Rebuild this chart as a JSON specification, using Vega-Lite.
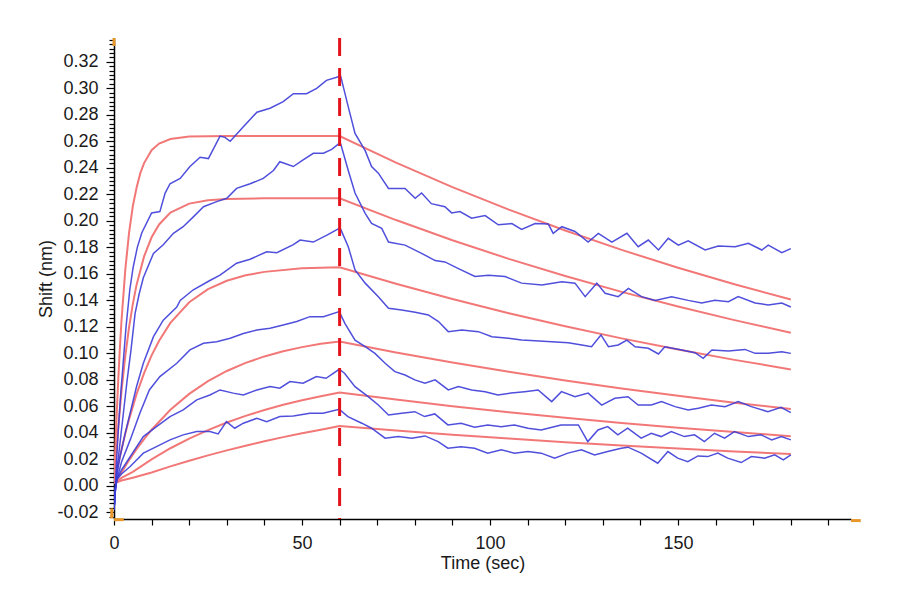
{
  "$schema": "https://vega.github.io/schema/vega-lite/v6.json",
  "width": 737,
  "height": 481,
  "autosize": {"type": "none"},
  "padding": {"left": 114, "top": 38, "right": 49, "bottom": 81},
  "background": "white",
  "config": {"view": {"stroke": null}, "font": "Liberation Sans"},
  "datasets": {
    "fit": [
      {"c":1,"t":0,"y":0.002},{"c":1,"t":0.5,"y":0.04},{"c":1,"t":1,"y":0.072},{"c":1,"t":1.5,"y":0.101},{"c":1,"t":2,"y":0.125},{"c":1,"t":3,"y":0.163},{"c":1,"t":4,"y":0.191},{"c":1,"t":5,"y":0.211},{"c":1,"t":6,"y":0.225},{"c":1,"t":7,"y":0.236},{"c":1,"t":8,"y":0.2436},{"c":1,"t":10,"y":0.2533},{"c":1,"t":12,"y":0.2583},{"c":1,"t":15,"y":0.2618},{"c":1,"t":20,"y":0.2636},{"c":1,"t":30,"y":0.264},{"c":1,"t":45,"y":0.264},{"c":1,"t":60,"y":0.264},{"c":1,"t":75,"y":0.244},{"c":1,"t":90,"y":0.2255},{"c":1,"t":105,"y":0.2085},{"c":1,"t":120,"y":0.1927},{"c":1,"t":135,"y":0.1781},{"c":1,"t":150,"y":0.1646},{"c":1,"t":165,"y":0.1521},{"c":1,"t":180,"y":0.1406},
      {"c":2,"t":0,"y":0.002},{"c":2,"t":1,"y":0.0393},{"c":2,"t":2,"y":0.0716},{"c":2,"t":3,"y":0.0979},{"c":2,"t":4,"y":0.1196},{"c":2,"t":5,"y":0.1372},{"c":2,"t":6,"y":0.1517},{"c":2,"t":8,"y":0.1732},{"c":2,"t":10,"y":0.1876},{"c":2,"t":12,"y":0.1973},{"c":2,"t":15,"y":0.2062},{"c":2,"t":20,"y":0.213},{"c":2,"t":25,"y":0.2155},{"c":2,"t":30,"y":0.2165},{"c":2,"t":40,"y":0.217},{"c":2,"t":60,"y":0.217},{"c":2,"t":75,"y":0.2006},{"c":2,"t":90,"y":0.1854},{"c":2,"t":105,"y":0.1713},{"c":2,"t":120,"y":0.1584},{"c":2,"t":135,"y":0.1464},{"c":2,"t":150,"y":0.1353},{"c":2,"t":165,"y":0.1251},{"c":2,"t":180,"y":0.1156},
      {"c":3,"t":0,"y":0.002},{"c":3,"t":1,"y":0.0143},{"c":3,"t":2,"y":0.0274},{"c":3,"t":3,"y":0.0394},{"c":3,"t":4,"y":0.0502},{"c":3,"t":6,"y":0.0692},{"c":3,"t":8,"y":0.0851},{"c":3,"t":10,"y":0.0985},{"c":3,"t":12,"y":0.1095},{"c":3,"t":15,"y":0.123},{"c":3,"t":20,"y":0.1386},{"c":3,"t":25,"y":0.1485},{"c":3,"t":30,"y":0.1548},{"c":3,"t":35,"y":0.1589},{"c":3,"t":40,"y":0.1615},{"c":3,"t":50,"y":0.1642},{"c":3,"t":60,"y":0.165},{"c":3,"t":75,"y":0.1525},{"c":3,"t":90,"y":0.141},{"c":3,"t":105,"y":0.1303},{"c":3,"t":120,"y":0.1204},{"c":3,"t":135,"y":0.1113},{"c":3,"t":150,"y":0.1029},{"c":3,"t":165,"y":0.0951},{"c":3,"t":180,"y":0.0879},
      {"c":4,"t":0,"y":0.002},{"c":4,"t":2,"y":0.0101},{"c":4,"t":4,"y":0.0193},{"c":4,"t":6,"y":0.0277},{"c":4,"t":8,"y":0.0353},{"c":4,"t":10,"y":0.0424},{"c":4,"t":15,"y":0.0574},{"c":4,"t":20,"y":0.0694},{"c":4,"t":25,"y":0.079},{"c":4,"t":30,"y":0.0867},{"c":4,"t":35,"y":0.0928},{"c":4,"t":40,"y":0.0977},{"c":4,"t":45,"y":0.1016},{"c":4,"t":50,"y":0.1047},{"c":4,"t":55,"y":0.1072},{"c":4,"t":60,"y":0.109},{"c":4,"t":75,"y":0.1007},{"c":4,"t":90,"y":0.0931},{"c":4,"t":105,"y":0.0861},{"c":4,"t":120,"y":0.0795},{"c":4,"t":135,"y":0.0735},{"c":4,"t":150,"y":0.068},{"c":4,"t":165,"y":0.0628},{"c":4,"t":180,"y":0.0581},
      {"c":5,"t":0,"y":0.002},{"c":5,"t":2,"y":0.006},{"c":5,"t":5,"y":0.0106},{"c":5,"t":10,"y":0.02},{"c":5,"t":15,"y":0.0284},{"c":5,"t":20,"y":0.0356},{"c":5,"t":25,"y":0.0421},{"c":5,"t":30,"y":0.0478},{"c":5,"t":35,"y":0.0528},{"c":5,"t":40,"y":0.0573},{"c":5,"t":45,"y":0.0612},{"c":5,"t":50,"y":0.0646},{"c":5,"t":55,"y":0.0677},{"c":5,"t":60,"y":0.0704},{"c":5,"t":75,"y":0.0651},{"c":5,"t":90,"y":0.0601},{"c":5,"t":105,"y":0.0556},{"c":5,"t":120,"y":0.0514},{"c":5,"t":135,"y":0.0475},{"c":5,"t":150,"y":0.0439},{"c":5,"t":165,"y":0.0406},{"c":5,"t":180,"y":0.0375},
      {"c":6,"t":0,"y":0.002},{"c":6,"t":2,"y":0.004},{"c":6,"t":5,"y":0.0062},{"c":6,"t":10,"y":0.0101},{"c":6,"t":15,"y":0.0147},{"c":6,"t":20,"y":0.019},{"c":6,"t":25,"y":0.023},{"c":6,"t":30,"y":0.0268},{"c":6,"t":35,"y":0.0303},{"c":6,"t":40,"y":0.0337},{"c":6,"t":45,"y":0.0368},{"c":6,"t":50,"y":0.0397},{"c":6,"t":55,"y":0.0424},{"c":6,"t":60,"y":0.0452},{"c":6,"t":75,"y":0.0418},{"c":6,"t":90,"y":0.0386},{"c":6,"t":105,"y":0.0357},{"c":6,"t":120,"y":0.033},{"c":6,"t":135,"y":0.0305},{"c":6,"t":150,"y":0.0282},{"c":6,"t":165,"y":0.026},{"c":6,"t":180,"y":0.0241}
    ],
    "obs": [
      {"c":1,"t":0,"y":-0.018},{"c":1,"t":0.3,"y":-0.005},{"c":1,"t":0.7,"y":0.02},{"c":1,"t":1.2,"y":0.045},{"c":1,"t":1.8,"y":0.07},{"c":1,"t":2.5,"y":0.095},{"c":1,"t":3.2,"y":0.12},{"c":1,"t":4.2,"y":0.148},{"c":1,"t":5.1,"y":0.165},{"c":1,"t":6.2,"y":0.18},{"c":1,"t":7.4,"y":0.191},{"c":1,"t":10,"y":0.206},{"c":1,"t":12.2,"y":0.207},{"c":1,"t":13.6,"y":0.221},{"c":1,"t":14.9,"y":0.228},{"c":1,"t":17.6,"y":0.232},{"c":1,"t":20.2,"y":0.241},{"c":1,"t":22.9,"y":0.248},{"c":1,"t":25.1,"y":0.247},{"c":1,"t":28.2,"y":0.264},{"c":1,"t":29.5,"y":0.263},{"c":1,"t":30.9,"y":0.26},{"c":1,"t":34.4,"y":0.271},{"c":1,"t":38,"y":0.282},{"c":1,"t":41.5,"y":0.285},{"c":1,"t":45,"y":0.29},{"c":1,"t":47.7,"y":0.296},{"c":1,"t":51.2,"y":0.296},{"c":1,"t":53.9,"y":0.3},{"c":1,"t":56.5,"y":0.306},{"c":1,"t":59.9,"y":0.309},{"c":1,"t":60.3,"y":0.309},{"c":1,"t":62.3,"y":0.286},{"c":1,"t":64.1,"y":0.266},{"c":1,"t":66.8,"y":0.253},{"c":1,"t":68.5,"y":0.241},{"c":1,"t":70.3,"y":0.236},{"c":1,"t":73,"y":0.2245},{"c":1,"t":77.4,"y":0.2245},{"c":1,"t":80.1,"y":0.217},{"c":1,"t":81.8,"y":0.221},{"c":1,"t":84.4,"y":0.213},{"c":1,"t":88,"y":0.2107},{"c":1,"t":89.8,"y":0.206},{"c":1,"t":92,"y":0.207},{"c":1,"t":95.1,"y":0.202},{"c":1,"t":98.7,"y":0.204},{"c":1,"t":102.2,"y":0.197},{"c":1,"t":105.8,"y":0.198},{"c":1,"t":108.4,"y":0.1936},{"c":1,"t":112,"y":0.198},{"c":1,"t":115.5,"y":0.1976},{"c":1,"t":116.8,"y":0.1906},{"c":1,"t":119.1,"y":0.1956},{"c":1,"t":122.6,"y":0.192},{"c":1,"t":126.1,"y":0.184},{"c":1,"t":128.8,"y":0.1906},{"c":1,"t":132.4,"y":0.184},{"c":1,"t":136.4,"y":0.1906},{"c":1,"t":139.4,"y":0.1805},{"c":1,"t":142.1,"y":0.1855},{"c":1,"t":144.8,"y":0.178},{"c":1,"t":147.4,"y":0.1868},{"c":1,"t":150.1,"y":0.1817},{"c":1,"t":152.7,"y":0.185},{"c":1,"t":157.2,"y":0.178},{"c":1,"t":160.7,"y":0.181},{"c":1,"t":165.2,"y":0.1805},{"c":1,"t":168.7,"y":0.183},{"c":1,"t":172.3,"y":0.178},{"c":1,"t":174,"y":0.1817},{"c":1,"t":177.6,"y":0.176},{"c":1,"t":180,"y":0.179},
      {"c":2,"t":0,"y":-0.018},{"c":2,"t":0.3,"y":-0.005},{"c":2,"t":0.7,"y":0.01},{"c":2,"t":1.5,"y":0.03},{"c":2,"t":2.5,"y":0.055},{"c":2,"t":3.5,"y":0.08},{"c":2,"t":4.5,"y":0.102},{"c":2,"t":5.6,"y":0.13},{"c":2,"t":6.7,"y":0.145},{"c":2,"t":7.8,"y":0.157},{"c":2,"t":10.5,"y":0.1755},{"c":2,"t":13.1,"y":0.182},{"c":2,"t":15.8,"y":0.1906},{"c":2,"t":18.4,"y":0.1956},{"c":2,"t":21.1,"y":0.203},{"c":2,"t":23.8,"y":0.2107},{"c":2,"t":27.3,"y":0.2145},{"c":2,"t":30,"y":0.217},{"c":2,"t":32.6,"y":0.2245},{"c":2,"t":36.2,"y":0.228},{"c":2,"t":39.7,"y":0.232},{"c":2,"t":42.4,"y":0.238},{"c":2,"t":44.1,"y":0.2446},{"c":2,"t":47.7,"y":0.241},{"c":2,"t":50.3,"y":0.246},{"c":2,"t":53,"y":0.251},{"c":2,"t":55.7,"y":0.251},{"c":2,"t":57.9,"y":0.254},{"c":2,"t":59.9,"y":0.2585},{"c":2,"t":60.3,"y":0.258},{"c":2,"t":62.3,"y":0.238},{"c":2,"t":64.1,"y":0.221},{"c":2,"t":66.8,"y":0.2057},{"c":2,"t":68.5,"y":0.198},{"c":2,"t":71.2,"y":0.1943},{"c":2,"t":73,"y":0.184},{"c":2,"t":77.4,"y":0.1817},{"c":2,"t":81.8,"y":0.1755},{"c":2,"t":85.4,"y":0.17},{"c":2,"t":88,"y":0.169},{"c":2,"t":91.6,"y":0.164},{"c":2,"t":96,"y":0.158},{"c":2,"t":99.6,"y":0.159},{"c":2,"t":104,"y":0.158},{"c":2,"t":108.4,"y":0.153},{"c":2,"t":113.8,"y":0.1516},{"c":2,"t":119.1,"y":0.154},{"c":2,"t":122.6,"y":0.153},{"c":2,"t":125.3,"y":0.1428},{"c":2,"t":128.4,"y":0.153},{"c":2,"t":130.6,"y":0.1453},{"c":2,"t":134.1,"y":0.1428},{"c":2,"t":136.8,"y":0.149},{"c":2,"t":140.3,"y":0.1428},{"c":2,"t":143.9,"y":0.14},{"c":2,"t":148.3,"y":0.1428},{"c":2,"t":152.7,"y":0.14},{"c":2,"t":156.3,"y":0.138},{"c":2,"t":159.8,"y":0.14},{"c":2,"t":163.4,"y":0.139},{"c":2,"t":166,"y":0.1428},{"c":2,"t":170.5,"y":0.138},{"c":2,"t":174,"y":0.1365},{"c":2,"t":177.6,"y":0.138},{"c":2,"t":180,"y":0.135},
      {"c":3,"t":0,"y":-0.018},{"c":3,"t":0.4,"y":-0.002},{"c":3,"t":1,"y":0.012},{"c":3,"t":1.6,"y":0.022},{"c":3,"t":3,"y":0.04},{"c":3,"t":4.3,"y":0.055},{"c":3,"t":6,"y":0.075},{"c":3,"t":7.8,"y":0.0925},{"c":3,"t":10.5,"y":0.1126},{"c":3,"t":13.1,"y":0.125},{"c":3,"t":16.7,"y":0.135},{"c":3,"t":17.6,"y":0.14},{"c":3,"t":21.1,"y":0.148},{"c":3,"t":25.5,"y":0.155},{"c":3,"t":28.2,"y":0.159},{"c":3,"t":32.6,"y":0.168},{"c":3,"t":36.2,"y":0.171},{"c":3,"t":40.6,"y":0.1767},{"c":3,"t":43.3,"y":0.176},{"c":3,"t":47.7,"y":0.182},{"c":3,"t":49.5,"y":0.1855},{"c":3,"t":53,"y":0.184},{"c":3,"t":56.5,"y":0.189},{"c":3,"t":59.9,"y":0.1943},{"c":3,"t":60.3,"y":0.1936},{"c":3,"t":62.3,"y":0.1805},{"c":3,"t":64.1,"y":0.163},{"c":3,"t":66.8,"y":0.153},{"c":3,"t":70.3,"y":0.1428},{"c":3,"t":73,"y":0.134},{"c":3,"t":76.5,"y":0.1327},{"c":3,"t":80.1,"y":0.131},{"c":3,"t":83.6,"y":0.129},{"c":3,"t":86.3,"y":0.124},{"c":3,"t":88.9,"y":0.1164},{"c":3,"t":92.5,"y":0.1176},{"c":3,"t":96.9,"y":0.1164},{"c":3,"t":100.5,"y":0.1126},{"c":3,"t":104.9,"y":0.1114},{"c":3,"t":108.4,"y":0.11},{"c":3,"t":112,"y":0.1096},{"c":3,"t":116.4,"y":0.1088},{"c":3,"t":120.8,"y":0.108},{"c":3,"t":124.4,"y":0.1063},{"c":3,"t":127,"y":0.105},{"c":3,"t":129.5,"y":0.1139},{"c":3,"t":131.5,"y":0.105},{"c":3,"t":134.1,"y":0.1063},{"c":3,"t":136.4,"y":0.11},{"c":3,"t":138.6,"y":0.105},{"c":3,"t":142.1,"y":0.1038},{"c":3,"t":144.8,"y":0.0995},{"c":3,"t":146.5,"y":0.105},{"c":3,"t":151,"y":0.1025},{"c":3,"t":154.5,"y":0.1005},{"c":3,"t":156.7,"y":0.0963},{"c":3,"t":159,"y":0.1025},{"c":3,"t":163.4,"y":0.1018},{"c":3,"t":167.8,"y":0.103},{"c":3,"t":170.5,"y":0.1},{"c":3,"t":174,"y":0.1},{"c":3,"t":177.6,"y":0.1013},{"c":3,"t":180,"y":0.1},
      {"c":4,"t":0,"y":-0.018},{"c":4,"t":0.4,"y":-0.002},{"c":4,"t":0.8,"y":0.005},{"c":4,"t":2,"y":0.018},{"c":4,"t":4.3,"y":0.0347},{"c":4,"t":6.9,"y":0.055},{"c":4,"t":9.4,"y":0.0724},{"c":4,"t":12.2,"y":0.0825},{"c":4,"t":16.7,"y":0.0925},{"c":4,"t":20.2,"y":0.1026},{"c":4,"t":23.8,"y":0.1076},{"c":4,"t":27.3,"y":0.1088},{"c":4,"t":30.9,"y":0.1114},{"c":4,"t":34.4,"y":0.115},{"c":4,"t":38,"y":0.1176},{"c":4,"t":41.5,"y":0.119},{"c":4,"t":45,"y":0.1214},{"c":4,"t":48.6,"y":0.124},{"c":4,"t":52.1,"y":0.1277},{"c":4,"t":55.7,"y":0.1277},{"c":4,"t":59.9,"y":0.1315},{"c":4,"t":61.4,"y":0.1227},{"c":4,"t":64.1,"y":0.11},{"c":4,"t":66.8,"y":0.105},{"c":4,"t":69.4,"y":0.1},{"c":4,"t":72.1,"y":0.0925},{"c":4,"t":74.7,"y":0.0862},{"c":4,"t":77.4,"y":0.0837},{"c":4,"t":80,"y":0.08},{"c":4,"t":82.7,"y":0.0775},{"c":4,"t":85.4,"y":0.08},{"c":4,"t":88.9,"y":0.0724},{"c":4,"t":91.6,"y":0.0749},{"c":4,"t":95.1,"y":0.0724},{"c":4,"t":98.7,"y":0.0711},{"c":4,"t":102.1,"y":0.0686},{"c":4,"t":105.6,"y":0.07},{"c":4,"t":109.2,"y":0.0711},{"c":4,"t":112.8,"y":0.0724},{"c":4,"t":116.4,"y":0.0636},{"c":4,"t":119,"y":0.0711},{"c":4,"t":122.6,"y":0.0673},{"c":4,"t":126.1,"y":0.07},{"c":4,"t":129.7,"y":0.061},{"c":4,"t":133.2,"y":0.0661},{"c":4,"t":136.7,"y":0.0673},{"c":4,"t":139.4,"y":0.061},{"c":4,"t":142.9,"y":0.061},{"c":4,"t":145.6,"y":0.0636},{"c":4,"t":149.2,"y":0.0598},{"c":4,"t":152.7,"y":0.0573},{"c":4,"t":155.4,"y":0.0586},{"c":4,"t":158.9,"y":0.061},{"c":4,"t":162.5,"y":0.0598},{"c":4,"t":166,"y":0.0636},{"c":4,"t":169.5,"y":0.0598},{"c":4,"t":173.9,"y":0.056},{"c":4,"t":177.4,"y":0.0593},{"c":4,"t":180,"y":0.0553},
      {"c":5,"t":0,"y":-0.018},{"c":5,"t":0.4,"y":-0.002},{"c":5,"t":0.8,"y":0.005},{"c":5,"t":2,"y":0.012},{"c":5,"t":4.3,"y":0.022},{"c":5,"t":7.8,"y":0.0372},{"c":5,"t":11.3,"y":0.0447},{"c":5,"t":14.9,"y":0.0523},{"c":5,"t":18.4,"y":0.0573},{"c":5,"t":22,"y":0.0649},{"c":5,"t":25.5,"y":0.0686},{"c":5,"t":28.2,"y":0.0724},{"c":5,"t":31.7,"y":0.07},{"c":5,"t":34.4,"y":0.0686},{"c":5,"t":38,"y":0.0724},{"c":5,"t":41.5,"y":0.0749},{"c":5,"t":44.1,"y":0.0737},{"c":5,"t":46.8,"y":0.0787},{"c":5,"t":50.3,"y":0.0775},{"c":5,"t":53.8,"y":0.0825},{"c":5,"t":56.4,"y":0.0812},{"c":5,"t":59.9,"y":0.088},{"c":5,"t":61.3,"y":0.085},{"c":5,"t":64.1,"y":0.0749},{"c":5,"t":67.6,"y":0.0673},{"c":5,"t":70.3,"y":0.061},{"c":5,"t":73,"y":0.0535},{"c":5,"t":76.5,"y":0.0548},{"c":5,"t":80,"y":0.056},{"c":5,"t":82.6,"y":0.0523},{"c":5,"t":85.3,"y":0.0543},{"c":5,"t":88.8,"y":0.046},{"c":5,"t":92.3,"y":0.0473},{"c":5,"t":95.9,"y":0.0443},{"c":5,"t":99.4,"y":0.046},{"c":5,"t":103,"y":0.0447},{"c":5,"t":106.5,"y":0.046},{"c":5,"t":110.1,"y":0.0435},{"c":5,"t":113.6,"y":0.0422},{"c":5,"t":118.9,"y":0.046},{"c":5,"t":123.5,"y":0.046},{"c":5,"t":126,"y":0.0334},{"c":5,"t":128.7,"y":0.0422},{"c":5,"t":131.3,"y":0.0447},{"c":5,"t":134,"y":0.0385},{"c":5,"t":136.6,"y":0.0435},{"c":5,"t":140.2,"y":0.036},{"c":5,"t":142.9,"y":0.0397},{"c":5,"t":145.5,"y":0.0372},{"c":5,"t":148.2,"y":0.041},{"c":5,"t":151.7,"y":0.0372},{"c":5,"t":154.4,"y":0.0385},{"c":5,"t":157,"y":0.0334},{"c":5,"t":159.7,"y":0.0397},{"c":5,"t":162.4,"y":0.036},{"c":5,"t":165,"y":0.041},{"c":5,"t":168.7,"y":0.0372},{"c":5,"t":172.1,"y":0.0385},{"c":5,"t":174.9,"y":0.0347},{"c":5,"t":177.5,"y":0.0372},{"c":5,"t":180,"y":0.0347},
      {"c":6,"t":0,"y":-0.018},{"c":6,"t":0.4,"y":-0.002},{"c":6,"t":0.8,"y":0.005},{"c":6,"t":2,"y":0.009},{"c":6,"t":4.3,"y":0.0146},{"c":6,"t":7.8,"y":0.0247},{"c":6,"t":11.3,"y":0.0296},{"c":6,"t":14.9,"y":0.0347},{"c":6,"t":18.4,"y":0.0385},{"c":6,"t":22,"y":0.041},{"c":6,"t":25.5,"y":0.041},{"c":6,"t":27.7,"y":0.0392},{"c":6,"t":29.9,"y":0.0485},{"c":6,"t":32.1,"y":0.0435},{"c":6,"t":34.4,"y":0.0473},{"c":6,"t":38,"y":0.051},{"c":6,"t":40.6,"y":0.0485},{"c":6,"t":44.1,"y":0.0523},{"c":6,"t":47.7,"y":0.0528},{"c":6,"t":52.1,"y":0.0548},{"c":6,"t":55.6,"y":0.0548},{"c":6,"t":59.9,"y":0.0578},{"c":6,"t":62.2,"y":0.0523},{"c":6,"t":65.9,"y":0.0473},{"c":6,"t":68.5,"y":0.0435},{"c":6,"t":72.1,"y":0.036},{"c":6,"t":75.6,"y":0.0372},{"c":6,"t":79.2,"y":0.036},{"c":6,"t":82.7,"y":0.0377},{"c":6,"t":86.2,"y":0.0334},{"c":6,"t":88.8,"y":0.0284},{"c":6,"t":92.3,"y":0.0296},{"c":6,"t":95.9,"y":0.0284},{"c":6,"t":99.4,"y":0.0247},{"c":6,"t":103,"y":0.0272},{"c":6,"t":106.5,"y":0.0247},{"c":6,"t":110.1,"y":0.0259},{"c":6,"t":113.6,"y":0.0247},{"c":6,"t":117.2,"y":0.0209},{"c":6,"t":120.7,"y":0.0247},{"c":6,"t":124.3,"y":0.0272},{"c":6,"t":127.8,"y":0.0234},{"c":6,"t":131.3,"y":0.0259},{"c":6,"t":134.9,"y":0.0284},{"c":6,"t":136.7,"y":0.0292},{"c":6,"t":140.2,"y":0.0247},{"c":6,"t":144.6,"y":0.0171},{"c":6,"t":147.3,"y":0.0259},{"c":6,"t":149.9,"y":0.0209},{"c":6,"t":152.6,"y":0.0183},{"c":6,"t":155.3,"y":0.0226},{"c":6,"t":157.9,"y":0.0221},{"c":6,"t":160.6,"y":0.0247},{"c":6,"t":163.2,"y":0.0209},{"c":6,"t":166.8,"y":0.0176},{"c":6,"t":169.5,"y":0.0221},{"c":6,"t":173,"y":0.0209},{"c":6,"t":175.7,"y":0.0234},{"c":6,"t":178,"y":0.0196},{"c":6,"t":180,"y":0.0234}
    ],
    "marker": [
      {"t":0,"t2":0,"y":0.338,"y2":0.332},
      {"t":-0.6,"t2":-0.6,"y":-0.0245,"y2":-0.017},
      {"t":0,"t2":2.6,"y":-0.0255,"y2":-0.0255},
      {"t":196,"t2":198.6,"y":-0.0262,"y2":-0.0262}
    ]
  },
  "resolve": {"axis": {"y": "independent"}},
  "layer": [
    {
      "data": {"name": "fit"},
      "mark": {"type": "line", "color": "#f27878", "strokeWidth": 2, "clip": true},
      "encoding": {
        "x": {
          "field": "t", "type": "quantitative",
          "scale": {"domain": [0, 196], "nice": false, "zero": false},
          "axis": {
            "values": [0,10,20,30,40,50,60,70,80,90,100,110,120,130,140,150,160,170,180,190],
            "tickCount": 500,
            "format": "d",
            "labelExpr": "datum.value % 50 === 0 ? datum.label : ''",
            "title": "Time (sec)",
            "grid": false,
            "tickSize": 6, "tickWidth": 1.2, "tickColor": "#000",
            "domainColor": "#000", "domainWidth": 1.5,
            "labelFontSize": 18, "labelColor": "#1a1a1a", "labelPadding": 9,
            "labelFlush": false, "labelOverlap": false,
            "titleFontSize": 18, "titleFontWeight": "normal", "titleColor": "#1a1a1a", "titlePadding": 2
          }
        },
        "y": {
          "field": "y", "type": "quantitative",
          "scale": {"domain": [-0.025, 0.338], "nice": false, "zero": false},
          "axis": {
            "orient": "left",
            "values": [-0.02,0,0.02,0.04,0.06,0.08,0.1,0.12,0.14,0.16,0.18,0.2,0.22,0.24,0.26,0.28,0.3,0.32],
            "tickCount": 500,
            "labelExpr": "replace(format(datum.value, '.2f'), '\u2212', '-')",
            "tickSize": 8,
            "title": "Shift (nm)",
            "grid": false,
            "tickWidth": 1.2, "tickColor": "#000",
            "domainColor": "#000", "domainWidth": 1.5,
            "labelFontSize": 18, "labelColor": "#1a1a1a", "labelPadding": 8,
            "labelFlush": false, "labelOverlap": false,
            "titleFontSize": 18, "titleFontWeight": "normal", "titleColor": "#1a1a1a", "titlePadding": 1
          }
        },
        "detail": {"field": "c", "type": "nominal"}
      }
    },
    {
      "data": {"name": "obs"},
      "mark": {"type": "line", "color": "#3c3cd8", "strokeWidth": 1.5, "opacity": 0.9, "clip": true},
      "encoding": {
        "x": {"field": "t", "type": "quantitative"},
        "y": {
          "field": "y", "type": "quantitative",
          "axis": {
            "orient": "left",
            "values": [-0.0233,-0.0167,-0.0133,-0.01,-0.0067,-0.0033,0.0033,0.0067,0.01,0.0133,0.0167,0.0233,0.0267,0.03,0.0333,0.0367,0.0433,0.0467,0.05,0.0533,0.0567,0.0633,0.0667,0.07,0.0733,0.0767,0.0833,0.0867,0.09,0.0933,0.0967,0.1033,0.1067,0.11,0.1133,0.1167,0.1233,0.1267,0.13,0.1333,0.1367,0.1433,0.1467,0.15,0.1533,0.1567,0.1633,0.1667,0.17,0.1733,0.1767,0.1833,0.1867,0.19,0.1933,0.1967,0.2033,0.2067,0.21,0.2133,0.2167,0.2233,0.2267,0.23,0.2333,0.2367,0.2433,0.2467,0.25,0.2533,0.2567,0.2633,0.2667,0.27,0.2733,0.2767,0.2833,0.2867,0.29,0.2933,0.2967,0.3033,0.3067,0.31,0.3133,0.3167,0.3233,0.3267,0.33,0.3333,0.3367],
            "tickCount": 500,
            "tickSize": 5, "tickWidth": 1.2, "tickColor": "#000",
            "labels": false, "domain": false, "grid": false, "title": null
          }
        },
        "detail": {"field": "c", "type": "nominal"}
      }
    },
    {
      "data": {"values": [{"t": 60}]},
      "mark": {"type": "rule", "color": "#e3131b", "strokeWidth": 3, "strokeDash": [18, 12]},
      "encoding": {"x": {"field": "t", "type": "quantitative"}}
    },
    {
      "data": {"name": "marker"},
      "mark": {"type": "rule", "color": "#e8982a", "strokeWidth": 3, "clip": false},
      "encoding": {
        "x": {"field": "t", "type": "quantitative"},
        "x2": {"field": "t2"},
        "y": {"field": "y", "type": "quantitative", "axis": null},
        "y2": {"field": "y2"}
      }
    }
  ]
}
